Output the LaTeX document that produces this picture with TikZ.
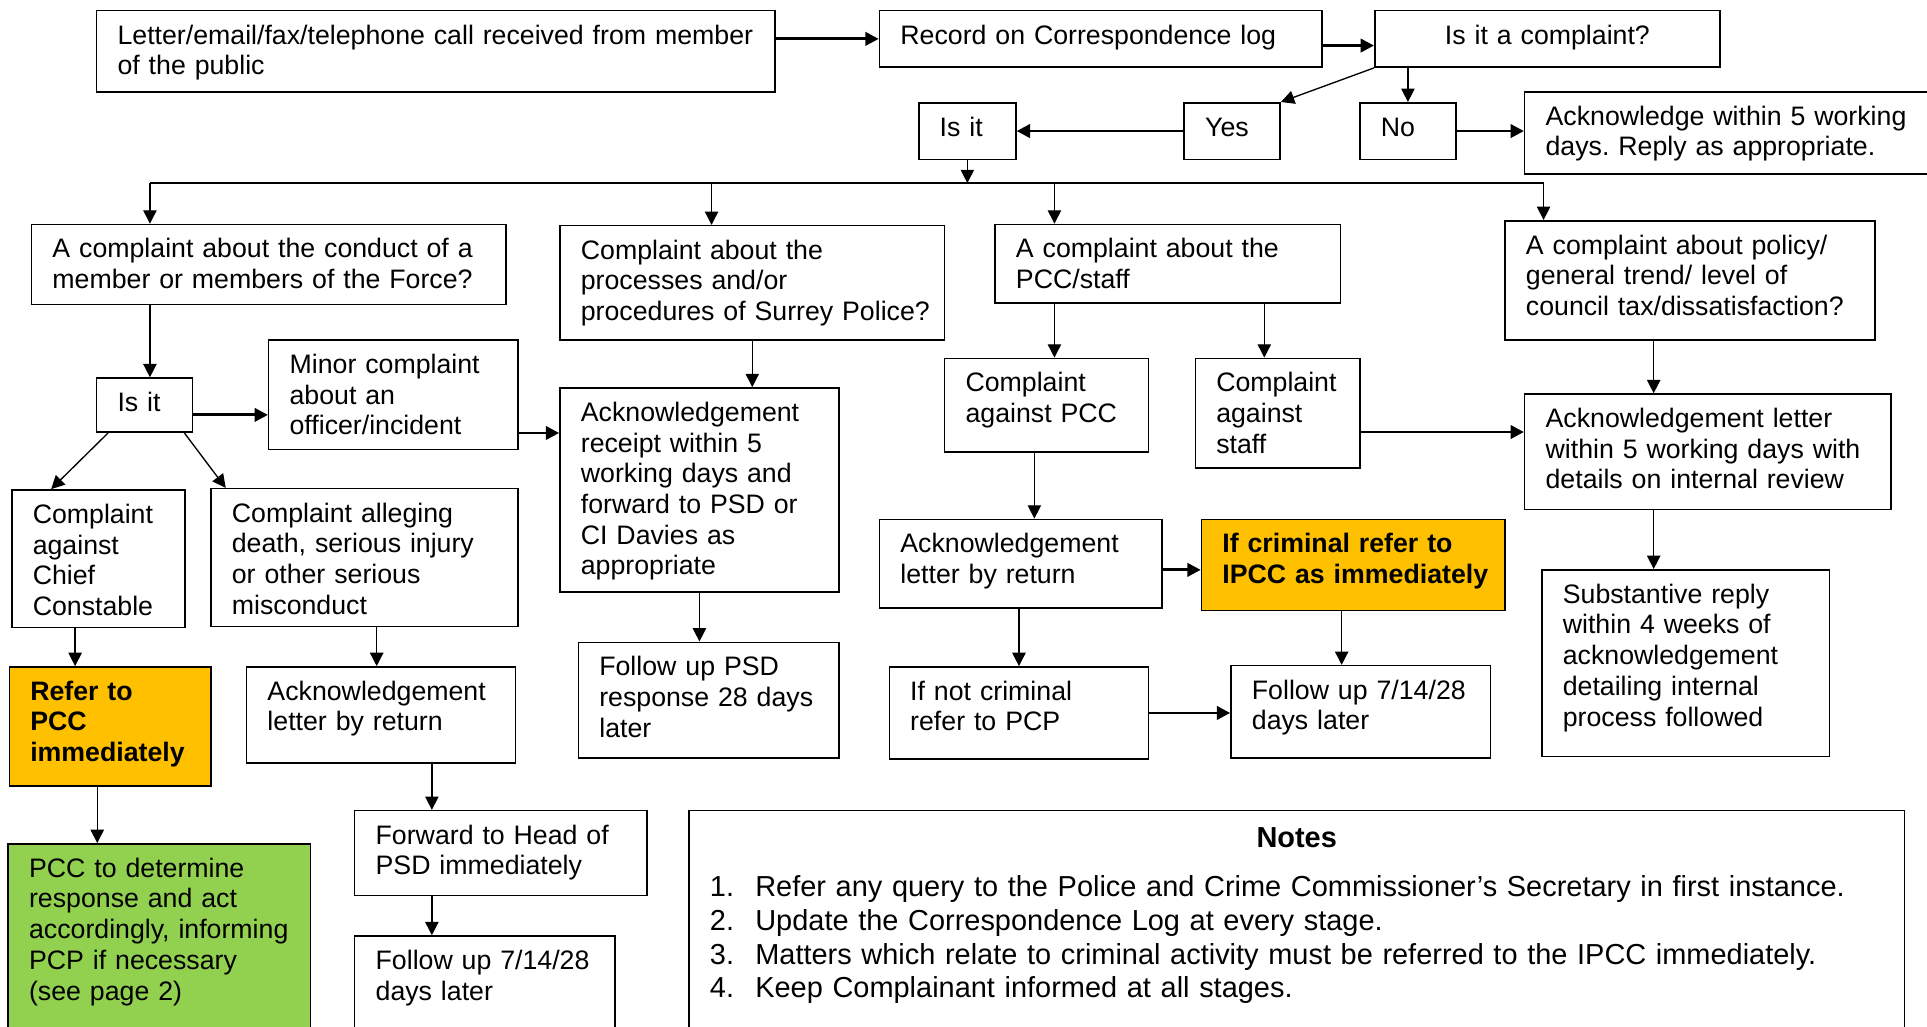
\documentclass[tikz,border=0pt]{standalone}
\usepackage{fontspec}
\setmainfont{Liberation Sans}
\usetikzlibrary{arrows.meta,positioning,calc}
\definecolor{amber}{HTML}{FFC000}
\definecolor{leaf}{HTML}{92D050}
\frenchspacing

\begin{document}
\begin{tikzpicture}[x=0.552pt,y=-0.552pt,
    font=\fontsize{12}{13.8}\selectfont,
    box/.style 2 args={draw,line width=0.7pt,anchor=north west,align=left,
      inner xsep=9.4pt,inner ysep=0pt,text width={#1*0.552pt-18.8pt},
      text height=15pt,text depth={#2*0.552pt-15pt}},
    hot/.style={fill=amber,font=\fontsize{12}{13.8}\selectfont\bfseries},
    arr/.style={-{Triangle[length=6pt,width=6pt]},line width=0.6pt},
    harr/.style={arr,line width=1.3pt}]
    \useasboundingbox (0,0) rectangle (1568,835);
    % first rows
    \node[box={552}{66}] (src) at (78,8) {\mbox{Letter/email/fax/telephone call received from member}\\of the public};
    \node[box={360}{46}] (rec) at (715,8) {Record on Correspondence log};
    \node[box={281}{46},align=center] (cmp) at (1118,8) {Is it a complaint?};
    \node[box={79}{46}] (isit) at (747,83) {Is it};
    \node[box={78}{46}] (yes) at (963,83) {Yes};
    \node[box={78}{46}] (no) at (1106,83) {No};
    \node[box={340}{67}] (ack5) at (1240,74) {Acknowledge within 5 working\\days. Reply as appropriate.};
    % four kinds of complaint
    \node[box={386}{65}] (force) at (25,182) {A complaint about the conduct of a\\member or members of the Force?};
    \node[box={313}{93}] (proc) at (455,183) {Complaint about the\\processes and/or\\\mbox{procedures of Surrey Police?}};
    \node[box={281}{64}] (pcc) at (809,182) {A complaint about the\\PCC/staff};
    \node[box={301}{97}] (policy) at (1224,179) {A complaint about policy/\\general trend/ level of\\\mbox{council tax/dissatisfaction?}};
    % force branch
    \node[box={78}{44}] (isit2) at (78,307) {Is it};
    \node[box={203}{89}] (minor) at (218,276) {Minor complaint\\about an\\officer/incident};
    \node[box={141}{112}] (cc) at (9,398) {Complaint\\against\\Chief\\Constable};
    \node[box={250}{112}] (death) at (171,397) {Complaint alleging\\death, serious injury\\or other serious\\misconduct};
    \node[box={164}{97},hot] (refer) at (7,542) {Refer to\\PCC\\immediately};
    \node[box={219}{78}] (ackret) at (200,542) {Acknowledgement\\letter by return};
    \node[box={246}{170},fill=leaf] (green) at (6,686) {PCC to determine\\response and act\\\mbox{accordingly, informing}\\PCP if necessary\\(see page 2)};
    \node[box={238}{69}] (fwd) at (288,659) {Forward to Head of\\PSD immediately};
    \node[box={212}{100}] (fu2) at (288,761) {Follow up 7/14/28\\days later};
    % process branch
    \node[box={227}{166}] (ackr) at (455,315) {Acknowledgement\\receipt within 5\\working days and\\forward to PSD or\\CI Davies as\\appropriate};
    \node[box={212}{94}] (psd28) at (470,522) {Follow up PSD\\response 28 days\\later};
    % PCC branch
    \node[box={166}{76}] (cpcc) at (768,291) {Complaint\\against PCC};
    \node[box={134}{89}] (cstaff) at (972,291) {Complaint\\against\\staff};
    \node[box={230}{72}] (ackcp) at (715,422) {Acknowledgement\\letter by return};
    \node[box={247}{74},hot] (ipcc) at (977,422) {If criminal refer to\\\mbox{IPCC as immediately}};
    \node[box={211}{75}] (notcrim) at (723,542) {If not criminal\\refer to PCP};
    \node[box={211}{75}] (fu1) at (1001,541) {Follow up 7/14/28\\days later};
    % policy branch
    \node[box={298}{94}] (acklet) at (1240,320) {Acknowledgement letter\\within 5 working days with\\details on internal review};
    \node[box={234}{152}] (subst) at (1254,463) {Substantive reply\\within 4 weeks of\\acknowledgement\\detailing internal\\process followed};
    % notes
    \node[box={989}{200},font=\fontsize{13}{15.2}\selectfont,text height=16.5pt] (notes) at (560,659)
      {\makebox[\linewidth]{\bfseries Notes}\\[6.8pt]
       \makebox[20.4pt][l]{1.}Refer any query to the Police and Crime Commissioner’s Secretary in first instance.\\
       \makebox[20.4pt][l]{2.}Update the Correspondence Log at every stage.\\
       \makebox[20.4pt][l]{3.}Matters which relate to criminal activity must be referred to the IPCC immediately.\\
       \makebox[20.4pt][l]{4.}Keep Complainant informed at all stages.};

    % connectors, top
    \draw[harr] (src.east |- rec.west) -- (rec.west);
    \draw[harr] ([yshift=-3pt]rec.east) -- ([yshift=-3pt]cmp.west);
    \draw[arr] (cmp.south west) -- (yes.north east);
    \draw[arr] (no.north |- cmp.south) -- (no.north);
    \draw[harr] (no.east) -- (no.east -| ack5.west);
    \draw[harr] (yes.west) -- (yes.west -| isit.east);
    \coordinate (b1) at (122,149);
    \coordinate (b2) at (579,149);
    \coordinate (b3) at (858,149);
    \coordinate (b4) at (1256,149);
    \draw[arr] (isit.south) -- (isit.south |- b1);
    \draw[line width=0.6pt] (b1) -- (b4);
    \foreach \b/\t in {b1/force,b2/proc,b3/pcc,b4/policy}
      \draw[arr] (\b) -- (\b |- \t.north);
    % force branch
    \coordinate (c1) at ([yshift=-4.4pt]isit2.east);
    \coordinate (m1) at ([yshift=7.7pt]minor.south east);
    \coordinate (c2) at ([xshift=-10.5pt]cc.south);
    \coordinate (c3) at ([xshift=35pt]fwd.north west);
    \coordinate (c0) at ([xshift=-5.8pt]refer.south);
    \coordinate (d1) at ([xshift=-2pt]ackret.north);
    \draw[arr] (b1 |- force.south) -- (b1 |- isit2.north);
    \draw[harr] (c1) -- (c1 -| minor.west);
    \draw[harr] (m1) -- (m1 -| ackr.west);
    \draw[arr] ([xshift=5.5pt]isit2.south west) -- ([xshift=18pt]cc.north west);
    \draw[arr] ([xshift=-4pt]isit2.south east) -- ([xshift=7pt]death.north west);
    \draw[arr] (c2) -- (c2 |- refer.north);
    \draw[arr] (c0) -- (c0 |- green.north);
    \draw[arr] (d1 |- death.south) -- (d1);
    \draw[arr] (c3 |- ackret.south) -- (c3);
    \draw[arr] (c3 |- fwd.south) -- (c3 |- fu2.north);
    % process branch
    \draw[arr] (proc.south) -- (proc.south |- ackr.north);
    \draw[arr] (ackr.south) -- (ackr.south |- psd28.north);
    % PCC branch
    \coordinate (c4) at ([xshift=-6pt]cstaff.north);
    \coordinate (c5) at ([yshift=-8.5pt]cstaff.east);
    \coordinate (c7) at ([xshift=-5.5pt]cpcc.south);
    \coordinate (c8) at ([yshift=-2.8pt]ackcp.east);
    \coordinate (c9) at ([xshift=-5.2pt]ipcc.south);
    \draw[arr] (b3 |- pcc.south) -- (b3 |- cpcc.north);
    \draw[arr] (c4 |- pcc.south) -- (c4);
    \draw[harr] (c5) -- (c5 -| acklet.west);
    \draw[arr] (c7) -- (c7 |- ackcp.north);
    \draw[harr] (c8) -- (c8 -| ipcc.west);
    \draw[arr] (notcrim.north |- ackcp.south) -- (notcrim.north);
    \draw[arr] (c9) -- (c9 |- fu1.north);
    \draw[harr] (notcrim.east) -- (notcrim.east -| fu1.west);
    % policy branch
    \coordinate (c6) at ([xshift=-16.3pt]policy.south);
    \draw[arr] (c6) -- (c6 |- acklet.north);
    \draw[arr] (c6 |- acklet.south) -- (c6 |- subst.north);
\end{tikzpicture}
\end{document}
